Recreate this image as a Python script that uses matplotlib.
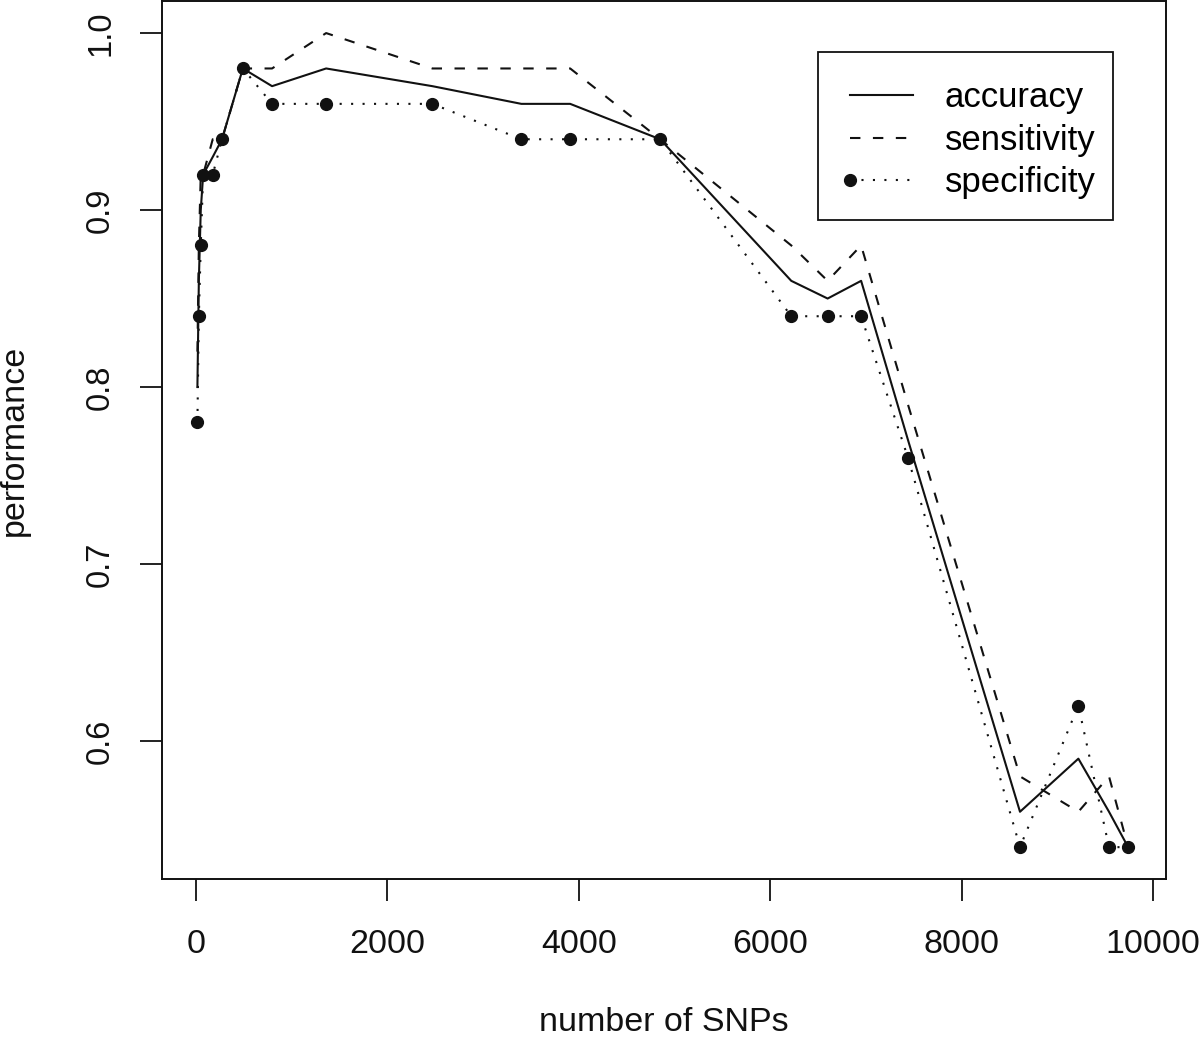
import matplotlib
matplotlib.use("Agg")
import matplotlib.pyplot as plt
from matplotlib.legend_handler import HandlerLine2D
from matplotlib.patches import Rectangle

plt.rcParams['font.family'] = ['Liberation Sans', 'DejaVu Sans']

# number of SNPs at each evaluation step
snps = [15, 30, 50, 75, 175, 272, 490, 795, 1360, 2470, 3400, 3910, 4850,
        6220, 6600, 6950, 7440, 8610, 9220, 9540, 9740]

accuracy = [0.80, 0.86, 0.90, 0.92, 0.93, 0.94, 0.98, 0.97, 0.98, 0.97, 0.96, 0.96, 0.94,
            0.86, 0.85, 0.86, 0.77, 0.56, 0.59, 0.56, 0.54]
sensitivity = [0.82, 0.88, 0.92, 0.92, 0.94, 0.94, 0.98, 0.98, 1.00, 0.98, 0.98, 0.98, 0.94,
               0.88, 0.86, 0.88, 0.79, 0.58, 0.56, 0.58, 0.54]
specificity = [0.78, 0.84, 0.88, 0.92, 0.92, 0.94, 0.98, 0.96, 0.96, 0.96, 0.94, 0.94, 0.94,
               0.84, 0.84, 0.84, 0.76, 0.54, 0.62, 0.54, 0.54]

x_ticks = [0, 2000, 4000, 6000, 8000, 10000]
y_ticks = [0.6, 0.7, 0.8, 0.9, 1.0]
y_tick_labels = ['0.6', '0.7', '0.8', '0.9', '1.0']


class LeftMarkerHandler(HandlerLine2D):
    # R puts the legend point at the start of the line, not the middle
    def create_artists(self, legend, orig_handle, xdescent, ydescent, width, height, fontsize, trans):
        artists = super().create_artists(legend, orig_handle, xdescent, ydescent,
                                         width, height, fontsize, trans)
        for a in artists:
            a.set_markevery([0])
        return artists


ink = '#111111'
fig = plt.figure(figsize=(12, 10.4), dpi=100)
ax = fig.add_axes([0.135, 0.1548, 0.8367, 0.8442])

ax.plot(snps, accuracy, color=ink, lw=1.5, label='accuracy')
ax.plot(snps, sensitivity, color=ink, lw=1.5, linestyle=(0, (5, 6)), label='sensitivity')
spec_line, = ax.plot(snps, specificity, color=ink, lw=1.5, linestyle=(0, (1, 4.5)),
                     marker='o', markersize=8.5, label='specificity')

ax.set_xlim(-355, 10136)
ax.set_ylim(0.522, 1.0181)

ax.set_xticks(x_ticks)
ax.set_yticks(y_ticks)
ax.set_yticklabels(y_tick_labels, rotation=90, va='center')
ax.tick_params(axis='both', length=16, width=1.3, color=ink, labelcolor=ink)
ax.tick_params(axis='x', pad=20, labelsize=24.5)
ax.tick_params(axis='y', pad=17, labelsize=23.5)

for sp in ax.spines.values():
    sp.set_linewidth(1.4)
    sp.set_color(ink)

ax.set_xlabel('number of SNPs', fontsize=24.5, color=ink, labelpad=34)
ax.set_ylabel('performance', fontsize=24.5, color=ink, labelpad=40)

# legend box drawn separately, R style (more room on the left than on the right)
ax.add_patch(Rectangle((0.6534, 0.7506), 0.2938, 0.1913, transform=ax.transAxes,
                       facecolor='white', edgecolor=ink, lw=1.3, zorder=4))
leg = ax.legend(loc='upper left', bbox_to_anchor=(0.685, 0.909), fontsize=25,
                frameon=False, handlelength=1.82, handletextpad=0.92, labelspacing=0.28,
                borderpad=0, borderaxespad=0, numpoints=1,
                handler_map={spec_line: LeftMarkerHandler()})
leg.set_zorder(5)

fig.savefig('out.png', dpi=100)
